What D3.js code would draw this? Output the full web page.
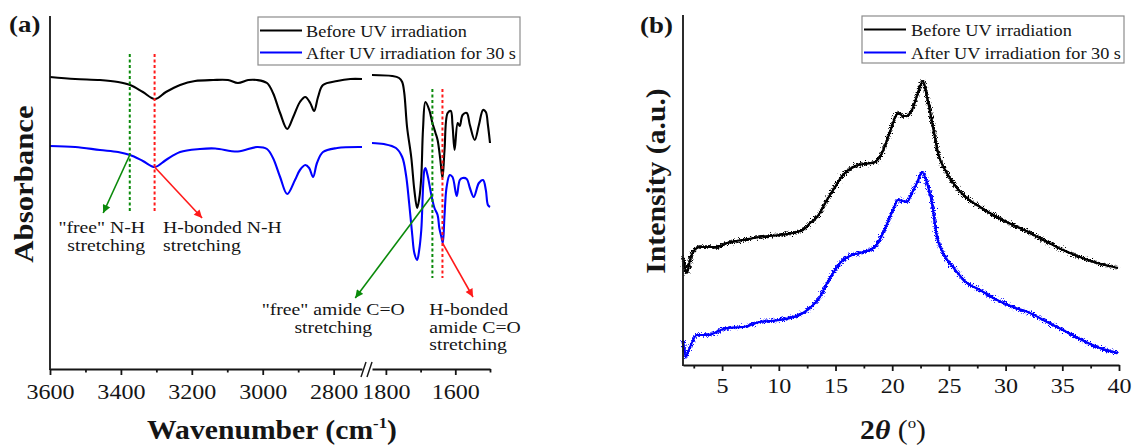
<!DOCTYPE html>
<html>
<head>
<meta charset="utf-8">
<script src="https://cdn.jsdelivr.net/npm/d3@7"></script>
<style>
  body { margin: 0; background: #fff; }
  svg { display: block; font-family: "Liberation Serif", "Times New Roman", serif; }
</style>
</head>
<body>
<svg id="fig" width="1136" height="445"></svg>
<script>
// ---------- FTIR spectra: [wavenumber (cm-1), absorbance (a.u., offset)] ----------
const ftirBeforeHigh = [[3600,2.92],[3529,2.90],[3459,2.89],[3408,2.87],[3374,2.84],[3338,2.77],[3304,2.70],[3273,2.77],[3233,2.84],[3191,2.88],[3140,2.89],[3098,2.89],[3070,2.86],[3041,2.89],[3016,2.89],[2988,2.86],[2971,2.76],[2951,2.56],[2931,2.40],[2914,2.52],[2895,2.67],[2880,2.72],[2866,2.66],[2855,2.58],[2844,2.72],[2830,2.84],[2790,2.88],[2753,2.90],[2720,2.90]];
const ftirBeforeLow = [[1840,2.94],[1782,2.93],[1762,2.91],[1753,2.87],[1747,2.76],[1739,2.42],[1727,2.12],[1718,1.79],[1710,1.61],[1704,1.70],[1698,1.92],[1693,2.40],[1686,2.67],[1675,2.59],[1666,2.46],[1657,2.36],[1651,2.29],[1643,2.09],[1637,1.91],[1631,2.19],[1622,2.56],[1613,2.58],[1608,2.44],[1602,2.19],[1593,2.46],[1587,2.43],[1579,2.54],[1567,2.56],[1558,2.44],[1544,2.29],[1532,2.44],[1520,2.59],[1512,2.57],[1506,2.44],[1500,2.26]];
const ftirAfterHigh = [[3600,2.23],[3529,2.22],[3459,2.19],[3408,2.17],[3374,2.14],[3338,2.08],[3304,2.02],[3273,2.09],[3233,2.17],[3177,2.20],[3134,2.205],[3070,2.175],[3016,2.22],[2988,2.20],[2971,2.11],[2951,1.92],[2931,1.75],[2909,1.89],[2895,1.99],[2880,2.04],[2869,2.01],[2858,1.92],[2847,2.06],[2830,2.17],[2790,2.21],[2720,2.22]];
const ftirAfterLow = [[1840,2.26],[1806,2.25],[1771,2.21],[1753,2.12],[1742,1.94],[1733,1.66],[1724,1.34],[1718,1.16],[1710,1.09],[1704,1.19],[1698,1.39],[1689,1.99],[1686,2.01],[1680,1.94],[1669,1.74],[1660,1.61],[1651,1.54],[1646,1.41],[1640,1.32],[1636,1.26],[1631,1.54],[1625,1.82],[1616,1.94],[1608,1.92],[1596,1.73],[1587,1.89],[1579,1.91],[1567,1.90],[1558,1.81],[1547,1.72],[1532,1.86],[1520,1.89],[1512,1.79],[1506,1.64],[1500,1.62]];

// FTIR axis ticks (broken axis: high and low wavenumber segments)
const irMajorHigh = [3600, 3400, 3200, 3000, 2800];
const irMinorHigh = [3500, 3300, 3100, 2900];
const irMajorLow = [1800, 1600];
const irMinorLow = [1700, 1500];

// Band positions marked with dotted lines (cm-1) and their vertical extent (a.u.)
const freeBands = [3375, 1666];
const hbondBands = [3305, 1637];
const bandTop = [3.15, 2.80];
const bandBottom = [1.57, 0.91];

// Annotation arrows: start on the spectrum, end at the label
const arrowFrom = [[3375, 2.14], [3305, 2.02], [1666, 1.74], [1637, 1.26]];
const arrowTo = [[3450, 1.56], [3171, 1.51], [2739, 0.71], [1549, 0.72]];
const arrowKind = ["free", "hbond", "free", "hbond"];

// Annotation labels: anchor wavenumber, first baseline (a.u.), alignment, lines
const noteAt = [[3332, 1.36], [3281, 1.36], [2801, 0.54], [1675, 0.54]];
const noteAlign = ["end", "start", "middle", "start"];
const noteLines = [
  ['"free" N-H', 'stretching'],
  ['H-bonded N-H', 'stretching'],
  ['"free" amide C=O', 'stretching'],
  ['H-bonded', 'amide C=O', 'stretching']
];

// ---------- XRD patterns: [2θ (deg), intensity (a.u., offset)] ----------
const xrdBefore = [[1.55,1.08],[1.64,1.02],[1.90,0.92],[2.17,1.05],[2.43,1.13],[3.05,1.18],[4.55,1.18],[5.43,1.22],[6.84,1.25],[8.34,1.28],[10.1,1.30],[12.13,1.35],[12.75,1.42],[13.37,1.48],[14.25,1.65],[14.95,1.78],[15.66,1.90],[16.54,1.98],[17.42,2.01],[18.3,2.02],[19.1,2.12],[19.8,2.33],[20.51,2.52],[20.95,2.49],[21.3,2.49],[21.74,2.55],[22.27,2.72],[22.71,2.84],[23.07,2.68],[23.6,2.38],[24.04,2.12],[24.83,1.92],[25.71,1.77],[26.6,1.67],[27.74,1.58],[29.24,1.48],[30.65,1.40],[32.15,1.32],[33.65,1.23],[35.06,1.15],[36.56,1.08],[38.06,1.02],[39.91,0.97]];
const xrdAfter = [[1.55,0.25],[1.81,0.08],[1.99,0.13],[2.17,0.18],[2.78,0.30],[3.67,0.30],[5.43,0.37],[6.84,0.38],[8.34,0.43],[10.1,0.45],[12.13,0.52],[12.93,0.59],[13.63,0.68],[14.16,0.80],[14.78,0.92],[15.66,1.05],[16.45,1.10],[17.16,1.12],[18.48,1.18],[19.19,1.32],[20.07,1.55],[20.51,1.65],[20.95,1.64],[21.3,1.63],[21.74,1.72],[22.18,1.82],[22.63,1.93],[23.07,1.82],[23.51,1.62],[23.95,1.28],[24.48,1.12],[25.36,0.98],[26.6,0.82],[27.74,0.75],[29.24,0.65],[30.65,0.58],[32.15,0.52],[33.65,0.43],[35.06,0.35],[36.56,0.26],[38.06,0.18],[39.91,0.12]];

const xrdMajor = [5, 10, 15, 20, 25, 30, 35, 40];
const xrdMinor = [2.5, 7.5, 12.5, 17.5, 22.5, 27.5, 32.5, 37.5];

const legendLabels = ["Before UV irradiation", "After UV irradiation for 30 s"];

// ---------- drawing ----------
const BLACK = "#000", BLUE = "#0000ff", GREEN = "#0a8a0a", RED = "#ff1a1a", INK = "#151515";
const WIDEN = "scale(1.12,1)";   // the figure's serif face runs a little wider

const svg = d3.select("#fig");
const defs = svg.append("defs");

["free", "hbond"].forEach(k => {
  defs.append("marker")
    .attr("id", "head-" + k)
    .attr("viewBox", "0 0 10 10")
    .attr("refX", 10).attr("refY", 5)
    .attr("markerUnits", "userSpaceOnUse")
    .attr("markerWidth", 9).attr("markerHeight", 8)
    .attr("orient", "auto")
    .append("path").attr("d", "M0,0L10,5L0,10Z")
    .attr("fill", k === "free" ? GREEN : RED);
});

// fine grain texture for the counting noise of the diffractograms
function grainFilter(id, seed, freq, amount) {
  const f = defs.append("filter").attr("id", id)
    .attr("x", "-2%").attr("y", "-10%").attr("width", "104%").attr("height", "120%");
  f.append("feTurbulence").attr("type", "fractalNoise")
    .attr("baseFrequency", freq).attr("numOctaves", 2).attr("seed", seed).attr("result", "n");
  f.append("feDisplacementMap").attr("in", "SourceGraphic").attr("in2", "n")
    .attr("scale", amount).attr("xChannelSelector", "R").attr("yChannelSelector", "G");
}
grainFilter("grainA", 7, "1.4 0.6", 10);
grainFilter("grainB", 23, "1.0 0.8", 9);

defs.append("clipPath").attr("id", "clipA")
  .append("rect").attr("x", 0).attr("y", 0).attr("width", 523).attr("height", 445);

// ===== Panel (a): FTIR =====
const xHigh = d3.scaleLinear().domain([3600, 2720]).range([50, 362]);
const xLow = d3.scaleLinear().domain([1840, 1500]).range([372, 490]);
const xIR = d3.scaleLinear()
  .domain([xHigh.domain()[0], xHigh.domain()[1], xLow.domain()[0], xLow.domain()[1]])
  .range([xHigh.range()[0], xHigh.range()[1], xLow.range()[0], xLow.range()[1]]);
const yIR = d3.scaleLinear().domain([0, 3.53]).range([369, 16]);

const gA = svg.append("g").attr("clip-path", "url(#clipA)");

const irLine = d3.line().x(d => xIR(d[0])).y(d => yIR(d[1])).curve(d3.curveCatmullRom.alpha(0.5));
[[ftirBeforeHigh, BLACK], [ftirBeforeLow, BLACK], [ftirAfterHigh, BLUE], [ftirAfterLow, BLUE]]
  .forEach(([data, c]) => {
    gA.append("path").datum(data).attr("d", irLine)
      .attr("fill", "none").attr("stroke", c).attr("stroke-width", 2.1)
      .attr("stroke-linejoin", "round");
  });

// dotted band markers
function bandLines(bands, color) {
  gA.selectAll(null).data(bands).enter().append("line")
    .attr("x1", d => xIR(d)).attr("x2", d => xIR(d))
    .attr("y1", (d, i) => yIR(bandTop[i])).attr("y2", (d, i) => yIR(bandBottom[i]))
    .attr("stroke", color).attr("stroke-width", 2).attr("stroke-dasharray", "3,2.5");
}
bandLines(freeBands, GREEN);
bandLines(hbondBands, RED);

// arrows
gA.selectAll(null).data(arrowFrom).enter().append("line")
  .attr("x1", d => xIR(d[0])).attr("y1", d => yIR(d[1]))
  .attr("x2", (d, i) => xIR(arrowTo[i][0])).attr("y2", (d, i) => yIR(arrowTo[i][1]))
  .attr("stroke", (d, i) => arrowKind[i] === "free" ? GREEN : RED)
  .attr("stroke-width", 1.6)
  .attr("marker-end", (d, i) => "url(#head-" + arrowKind[i] + ")");

// annotation text
noteAt.forEach((p, i) => {
  noteLines[i].forEach((t, j) => {
    gA.append("text")
      .attr("transform", `translate(${xIR(p[0])},${yIR(p[1]) + j * 17.7}) ${WIDEN}`)
      .attr("text-anchor", noteAlign[i])
      .attr("font-size", 17.6).attr("fill", INK)
      .text(t);
  });
});

// axes
const axA = svg.append("g").attr("transform", `translate(0,${yIR.range()[0]})`);
function irAxis(scale, major, minor) {
  const gMaj = axA.append("g").call(d3.axisBottom(scale).tickValues(major)
    .tickSize(6).tickSizeOuter(0).tickFormat(d3.format("d")));
  const gMin = axA.append("g").call(d3.axisBottom(scale).tickValues(minor)
    .tickSize(3.5).tickSizeOuter(0).tickFormat(""));
  gMin.select(".domain").remove();
  [gMaj, gMin].forEach(g => {
    g.attr("font-family", null);
    g.selectAll("path,line").attr("stroke", INK).attr("stroke-width", 1.8);
  });
  gMaj.selectAll("text").attr("y", 30).attr("dy", 0)
    .attr("transform", WIDEN).attr("font-size", 21.5).attr("fill", INK);
}
irAxis(xHigh, irMajorHigh, irMinorHigh);
irAxis(xLow, irMajorLow, irMinorLow);

// axis break marks
const bx0 = xHigh.range()[1];
[bx0 - 1, bx0 + 5].forEach(bx => {
  axA.append("line").attr("x1", bx).attr("y1", 8).attr("x2", bx + 5).attr("y2", -7)
    .attr("stroke", INK).attr("stroke-width", 1.4);
});

svg.append("line").attr("x1", xHigh.range()[0]).attr("x2", xHigh.range()[0])
  .attr("y1", yIR.range()[1]).attr("y2", yIR.range()[0] + 0.9)
  .attr("stroke", INK).attr("stroke-width", 1.8);

// titles
svg.append("text").attr("transform", `translate(9,32) ${WIDEN}`)
  .attr("font-size", 24).attr("font-weight", "bold").attr("fill", INK).text("(a)");
svg.append("text").attr("transform", `translate(33,184) rotate(-90) ${WIDEN}`)
  .attr("text-anchor", "middle").attr("font-size", 27.5).attr("font-weight", "bold")
  .attr("fill", INK).text("Absorbance");
const wn = svg.append("text").attr("transform", `translate(272,438.5) ${WIDEN}`)
  .attr("text-anchor", "middle").attr("font-size", 26.5).attr("font-weight", "bold").attr("fill", INK);
wn.append("tspan").text("Wavenumber (cm");
wn.append("tspan").attr("font-size", 15).attr("dy", -11).text("-1");
wn.append("tspan").attr("dy", 11).text(")");

// legend box with two line samples
function legend(x0, y0, w, h, lineX, textX, rows) {
  svg.append("rect").attr("x", x0).attr("y", y0).attr("width", w).attr("height", h)
    .attr("fill", "#fff").attr("stroke", "#8c8c8c").attr("stroke-width", 1.2);
  legendLabels.forEach((lab, i) => {
    svg.append("line").attr("x1", lineX[0]).attr("x2", lineX[1])
      .attr("y1", rows[i]).attr("y2", rows[i])
      .attr("stroke", i === 0 ? BLACK : BLUE).attr("stroke-width", 2);
    svg.append("text").attr("transform", `translate(${textX},${rows[i] + 6}) scale(1.1,1)`)
      .attr("font-size", 16.6).attr("fill", INK).text(lab);
  });
}
legend(258, 17, 262, 48, [260, 302], 306, [30.5, 52.5]);

// ===== Panel (b): XRD =====
const xX = d3.scaleLinear().domain([1.55, 40]).range([683, 1119]);
const yX = d3.scaleLinear().domain([0, 3.5]).range([365, 15]);

const xrdLine = d3.line().x(d => xX(d[0])).y(d => yX(d[1])).curve(d3.curveMonotoneX);
[[xrdBefore, BLACK], [xrdAfter, BLUE]].forEach(([data, c]) => {
  svg.append("path").datum(data).attr("d", xrdLine)
    .attr("fill", "none").attr("stroke", c).attr("stroke-width", 2.1);
  ["grainA", "grainB"].forEach(f => {
    svg.append("path").datum(data).attr("d", xrdLine)
      .attr("fill", "none").attr("stroke", c).attr("stroke-width", 1.7)
      .attr("filter", `url(#${f})`);
  });
});

const axB = svg.append("g").attr("transform", `translate(0,${yX.range()[0]})`);
const gBMaj = axB.append("g").call(d3.axisBottom(xX).tickValues(xrdMajor)
  .tickSize(6).tickSizeOuter(0).tickFormat(d3.format("d")));
const gBMin = axB.append("g").call(d3.axisBottom(xX).tickValues(xrdMinor)
  .tickSize(3.5).tickSizeOuter(0).tickFormat(""));
gBMin.select(".domain").remove();
[gBMaj, gBMin].forEach(g => {
  g.attr("font-family", null);
  g.selectAll("path,line").attr("stroke", INK).attr("stroke-width", 1.8);
});
gBMaj.selectAll("text").attr("y", 28).attr("dy", 0)
  .attr("transform", WIDEN).attr("font-size", 21.5).attr("fill", INK);

svg.append("line").attr("x1", xX.range()[0]).attr("x2", xX.range()[0])
  .attr("y1", yX.range()[1]).attr("y2", yX.range()[0] + 0.9)
  .attr("stroke", INK).attr("stroke-width", 1.8);

svg.append("text").attr("transform", `translate(640,33) ${WIDEN}`)
  .attr("font-size", 24).attr("font-weight", "bold").attr("fill", INK).text("(b)");
svg.append("text").attr("transform", `translate(665,181) rotate(-90) ${WIDEN}`)
  .attr("text-anchor", "middle").attr("font-size", 26.5).attr("font-weight", "bold")
  .attr("fill", INK).text("Intensity (a.u.)");
const tt = svg.append("text").attr("transform", `translate(893,438.5) ${WIDEN}`)
  .attr("text-anchor", "middle").attr("font-size", 26.5).attr("fill", INK);
tt.append("tspan").attr("font-weight", "bold").text("2");
tt.append("tspan").attr("font-weight", "bold").attr("font-style", "italic").text("θ");
tt.append("tspan").text(" (");
tt.append("tspan").attr("font-size", 15).attr("dy", -11).text("o");
tt.append("tspan").attr("dy", 11).text(")");

legend(862, 16, 262, 47, [864, 906], 911, [29.5, 52.5]);
</script>
</body>
</html>
